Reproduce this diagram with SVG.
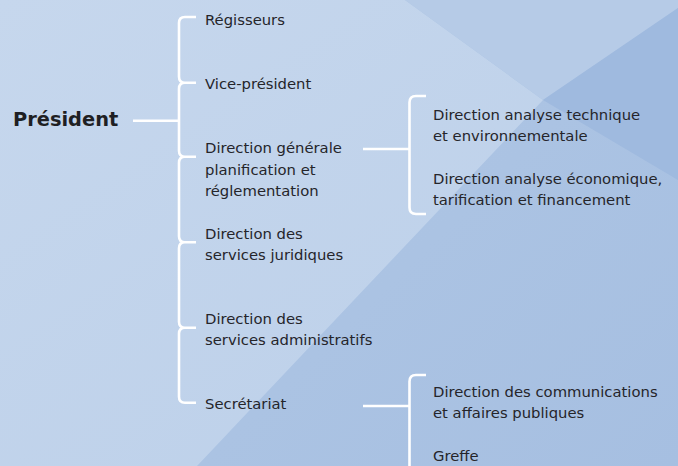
<svg xmlns="http://www.w3.org/2000/svg" width="678" height="466" viewBox="0 0 678 466">
  <defs>
    <linearGradient id="bg" x1="0" y1="0" x2="1" y2="1">
      <stop offset="0" stop-color="#c6d7ed"/>
      <stop offset="1" stop-color="#bbcfe9"/>
    </linearGradient>
    <linearGradient id="bgR" x1="0" y1="0" x2="1" y2="1">
      <stop offset="0" stop-color="#b0c7e5"/>
      <stop offset="1" stop-color="#a6bfe1"/>
    </linearGradient>
    <style>
      .t { font-family: "DejaVu Sans", "Liberation Sans", sans-serif; font-size: 14.8px; fill: #25252a; }
      .b { font-family: "DejaVu Sans", "Liberation Sans", sans-serif; font-size: 19.4px; font-weight: bold; fill: #1f1f23; }
      .ln { fill: none; stroke: #ffffff; stroke-width: 2.6; stroke-linecap: butt; stroke-linejoin: round; }
    </style>
  </defs>

  <g id="background">
    <rect x="0" y="0" width="678" height="466" fill="url(#bg)"/>
    <polygon points="405,0 678,0 678,466 197,466 543,100" fill="url(#bgR)"/>
    <polygon points="405,0 678,0 678,8 543,100" fill="#b6cbe7"/>
    <polygon points="678,8 543,100 678,180" fill="#9fbadf"/>
  </g>

  <g id="connectors">
    <path class="ln" d="M133,120.7 H179"/>
    <path class="ln" d="M196,17 H185 Q179,17 179,23 V76.7 Q179,82.7 185,82.7 H196
      M185,82.7 Q179,82.7 179,88.7 V150.7 Q179,156.7 185,156.7 H196
      M185,156.7 Q179,156.7 179,162.7 V236.3 Q179,242.3 185,242.3 H196
      M185,242.3 Q179,242.3 179,248.3 V321.7 Q179,327.7 185,327.7 H196
      M185,327.7 Q179,327.7 179,333.7 V396.7 Q179,402.7 185,402.7 H196"/>
    <path class="ln" d="M363,149 H409"/>
    <path class="ln" d="M426,96 H416 Q409.5,96 409.5,102.5 V207.5 Q409.5,214 416,214 H426"/>
    <path class="ln" d="M363,406 H409"/>
    <path class="ln" d="M426,375 H416 Q409.5,375 409.5,381.5 V470"/>
  </g>

  <g id="president">
    <text class="b" x="13" y="126">Président</text>
  </g>
  <g id="regisseurs">
    <text class="t" x="205" y="25">Régisseurs</text>
  </g>
  <g id="vice-president">
    <text class="t" x="205" y="89">Vice-président</text>
  </g>
  <g id="direction-generale">
    <text class="t" x="205" y="153">Direction générale</text>
    <text class="t" x="205" y="175">planification et</text>
    <text class="t" x="205" y="196">réglementation</text>
  </g>
  <g id="services-juridiques">
    <text class="t" x="205" y="239">Direction des</text>
    <text class="t" x="205" y="260">services juridiques</text>
  </g>
  <g id="services-administratifs">
    <text class="t" x="205" y="324">Direction des</text>
    <text class="t" x="205" y="345">services administratifs</text>
  </g>
  <g id="secretariat">
    <text class="t" x="205" y="409">Secrétariat</text>
  </g>
  <g id="analyse-technique">
    <text class="t" x="433" y="120">Direction analyse technique</text>
    <text class="t" x="433" y="141">et environnementale</text>
  </g>
  <g id="analyse-economique">
    <text class="t" x="433" y="184">Direction analyse économique,</text>
    <text class="t" x="433" y="205">tarification et financement</text>
  </g>
  <g id="communications">
    <text class="t" x="433" y="397">Direction des communications</text>
    <text class="t" x="433" y="418">et affaires publiques</text>
  </g>
  <g id="greffe">
    <text class="t" x="433" y="461">Greffe</text>
  </g>
</svg>
